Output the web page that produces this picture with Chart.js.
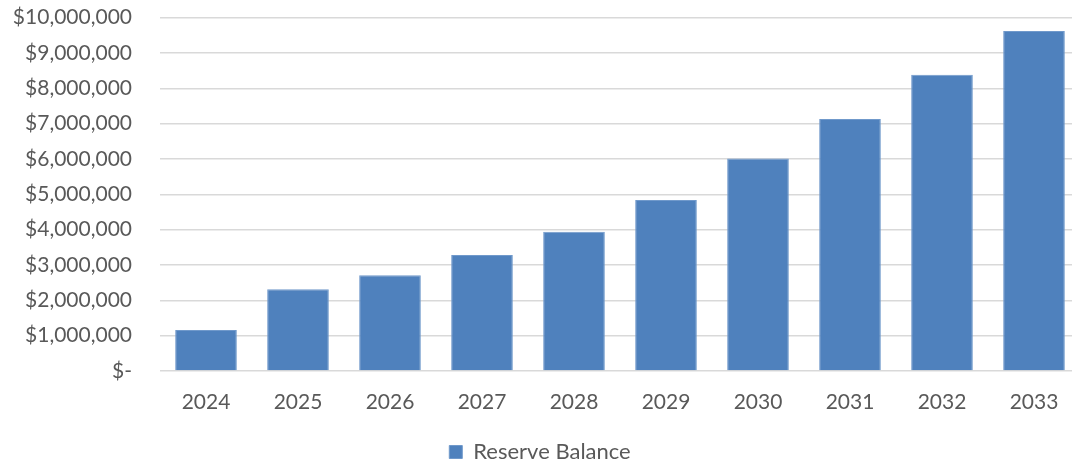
<!DOCTYPE html>
<html>
<head>
<meta charset="utf-8">
<script src="https://cdn.jsdelivr.net/npm/chart.js@4.4.1/dist/chart.umd.min.js"></script>
<style>
  html, body { margin: 0; padding: 0; background: #fff; overflow: hidden; }
  #wrap { width: 1080px; height: 496px; margin-top: -23px; }
</style>
</head>
<body>
<div id="wrap"><canvas id="myChart"></canvas></div>
<script>
const years = ["2024", "2025", "2026", "2027", "2028", "2029", "2030", "2031", "2032", "2033"];
const reserveBalance = [1160000, 2310000, 2710000, 3280000, 3940000, 4840000, 6010000, 7130000, 8380000, 9620000];
const seriesLabel = "Reserve Balance";

const textColor = "#595959";
const fontFamily = "Lato, 'Liberation Sans', sans-serif";

const money = (v) => (v === 0 ? "$-" : "$" + v.toLocaleString("en-US"));

const ctx = document.getElementById("myChart").getContext("2d");
const myChart = new Chart(ctx, {
  type: "bar",
  data: {
    labels: years,
    datasets: [
      {
        label: seriesLabel,
        data: reserveBalance,
        backgroundColor: "#4f81bd",
        borderColor: "#7099cb",
        borderWidth: 1,
        categoryPercentage: 1,
        barPercentage: 0.67,
      },
    ],
  },
  options: {
    responsive: true,
    maintainAspectRatio: false,
    animation: false,
    layout: { padding: 0 },
    plugins: {
      tooltip: { enabled: false },
      legend: {
        position: "bottom",
        labels: {
          color: textColor,
          font: { family: fontFamily, size: 22 },
          boxWidth: 13,
          boxHeight: 13,
          padding: 10,
        },
      },
    },
    scales: {
      x: {
        grid: { display: false },
        border: { display: false },
        ticks: {
          color: textColor,
          font: { family: fontFamily, size: 21 },
          padding: 11,
        },
        afterFit: (scale) => {
          scale.height = 60;
        },
      },
      y: {
        min: 0,
        max: 10000000,
        border: { display: false },
        grid: { color: "#d9d9d9", lineWidth: 1.5, drawTicks: false },
        ticks: {
          stepSize: 1000000,
          color: textColor,
          font: { family: fontFamily, size: 21 },
          padding: 28,
          callback: (v) => money(v),
        },
        afterFit: (scale) => {
          scale.width = 160;
        },
      },
    },
  },
});
</script>
</body>
</html>
